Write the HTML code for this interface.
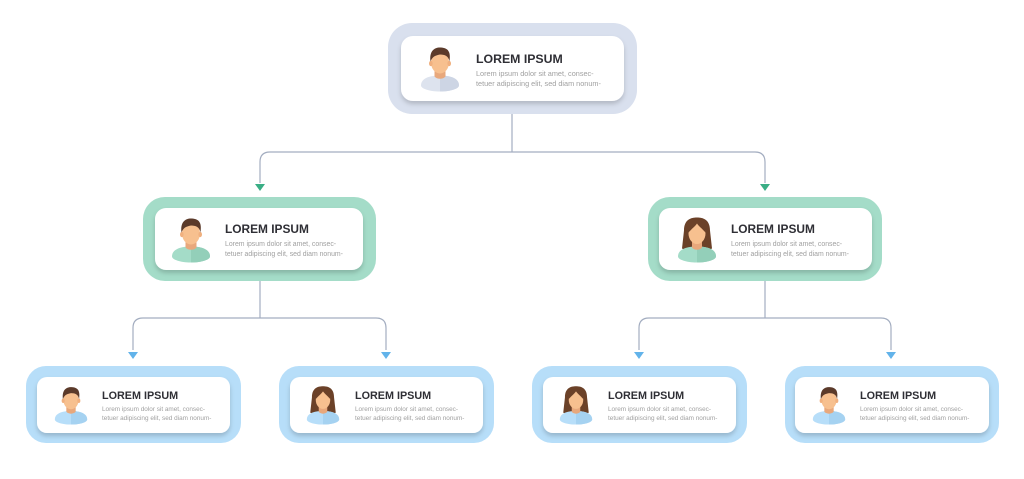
<!DOCTYPE html>
<html><head><meta charset="utf-8"><style>
html,body{margin:0;padding:0;background:#fff;width:1024px;height:479px;overflow:hidden}
svg{display:block}
text{font-family:"Liberation Sans",sans-serif}
.t{font-weight:bold;fill:#2f2f35}
.d{fill:#a0a0a0}
</style></head><body>
<svg width="1024" height="479" viewBox="0 0 1024 479" xmlns="http://www.w3.org/2000/svg">
<defs>
<filter id="sh" x="-10%" y="-20%" width="120%" height="150%"><feDropShadow dx="0" dy="3" stdDeviation="2.5" flood-color="#000" flood-opacity="0.18"/></filter>
<symbol id="m" viewBox="0 0 40 46">
<path d="M1 40 C1 33 9 30 20 30 C31 30 39 33 39 40 C39 43 31 46 20 46 C9 46 1 43 1 40Z" fill="var(--sh)"/>
<path d="M20 30 C31 30 39 33 39 40 C39 43 31 46 20 46Z" fill="var(--sh2)"/>
<path d="M14.5 24 L25.5 24 L25.5 31 C23 34 17 34 14.5 31Z" fill="#e8a87c"/>
<ellipse cx="20" cy="17" rx="9" ry="11" fill="#f7c08f"/>
<ellipse cx="10.8" cy="18" rx="1.8" ry="2.6" fill="#f0b07f"/>
<ellipse cx="29.2" cy="18" rx="1.8" ry="2.6" fill="#f0b07f"/>
<path d="M10.5 16 C9 5 15 1.5 21 2 C28 2.5 31 6 29.5 16 C28.5 10.5 25 9 20 9 C15 10 12.5 11 10.5 16Z" fill="#5b3a2a"/>
</symbol>
<symbol id="f" viewBox="0 0 40 46">
<path d="M7 14 C7 3 14 1 20 1 C26 1 33 3 33 14 L35 32 C30 35 10 35 5 32Z" fill="#6b4128"/>
<path d="M1 40 C1 33 9 30 20 30 C31 30 39 33 39 40 C39 43 31 46 20 46 C9 46 1 43 1 40Z" fill="var(--sh)"/>
<path d="M20 30 C31 30 39 33 39 40 C39 43 31 46 20 46Z" fill="var(--sh2)"/>
<path d="M15 24 L25 24 L25 31 C23 34 17 34 15 31Z" fill="#e8a87c"/>
<ellipse cx="20" cy="17" rx="8.5" ry="10.5" fill="#f7c08f"/>
<path d="M11.5 16 C11.5 6 16 4 20 4 C24 4 28.5 6 28.5 16 C25 12 22 10 20 7 C18 10 15 12 11.5 16Z" fill="#6b4128"/>
</symbol>
</defs>

<g fill="none" stroke="#a3adc0" stroke-width="1.2">
<path d="M512 114 V152"/>
<path d="M260 183 V162 Q260 152 270 152 H755 Q765 152 765 162 V183"/>
<path d="M260 281 V318"/>
<path d="M133 350 V328 Q133 318 143 318 H376 Q386 318 386 328 V350"/>
<path d="M765 281 V318"/>
<path d="M639 350 V328 Q639 318 649 318 H881 Q891 318 891 328 V350"/>
</g>
<g fill="#3aae85"><path d="M255 184 H265 L260 191Z"/><path d="M760 184 H770 L765 191Z"/></g>
<g fill="#62b3ea">
<path d="M128 352 H138 L133 359Z"/><path d="M381 352 H391 L386 359Z"/>
<path d="M634 352 H644 L639 359Z"/><path d="M886 352 H896 L891 359Z"/>
</g>

<rect x="388" y="23" width="249" height="91" rx="24" fill="#d9e0ee"/>
<rect x="401" y="36" width="223" height="65" rx="12" fill="#fff" filter="url(#sh)"/>
<use href="#m" x="420" y="45" width="40" height="47" style="--sh:#dde3ee;--sh2:#cdd5e4"/>
<text class="t" x="476" y="63" font-size="12.3">LOREM IPSUM</text>
<text class="d" x="476" y="76" font-size="7.3">Lorem ipsum dolor sit amet, consec-</text>
<text class="d" x="476" y="86" font-size="7.3">tetuer adipiscing elit, sed diam nonum-</text>

<rect x="143" y="197" width="233" height="84" rx="22" fill="#a4dcc8"/>
<rect x="155" y="208" width="208" height="62" rx="11" fill="#fff" filter="url(#sh)"/>
<use href="#m" x="171" y="216" width="40" height="47" style="--sh:#a4dcc8;--sh2:#93cfb9"/>
<text class="t" x="225" y="233" font-size="11.9">LOREM IPSUM</text>
<text class="d" x="225" y="246" font-size="6.9">Lorem ipsum dolor sit amet, consec-</text>
<text class="d" x="225" y="256" font-size="6.9">tetuer adipiscing elit, sed diam nonum-</text>

<rect x="648" y="197" width="234" height="84" rx="22" fill="#a4dcc8"/>
<rect x="659" y="208" width="213" height="62" rx="11" fill="#fff" filter="url(#sh)"/>
<use href="#f" x="677" y="216" width="40" height="47" style="--sh:#a4dcc8;--sh2:#93cfb9"/>
<text class="t" x="731" y="233" font-size="11.9">LOREM IPSUM</text>
<text class="d" x="731" y="246" font-size="6.9">Lorem ipsum dolor sit amet, consec-</text>
<text class="d" x="731" y="256" font-size="6.9">tetuer adipiscing elit, sed diam nonum-</text>

<g>
<rect x="26" y="366" width="215" height="77" rx="20" fill="#b7def9"/>
<rect x="37" y="377" width="193" height="56" rx="10" fill="#fff" filter="url(#sh)"/>
<use href="#m" x="54" y="385" width="34" height="40" style="--sh:#b7def9;--sh2:#a5d2f1"/>
<text class="t" x="102" y="399" font-size="10.8">LOREM IPSUM</text>
<text class="d" x="102" y="411" font-size="6.4">Lorem ipsum dolor sit amet, consec-</text>
<text class="d" x="102" y="420" font-size="6.4">tetuer adipiscing elit, sed diam nonum-</text>
</g>
<g>
<rect x="279" y="366" width="215" height="77" rx="20" fill="#b7def9"/>
<rect x="290" y="377" width="193" height="56" rx="10" fill="#fff" filter="url(#sh)"/>
<use href="#f" x="306" y="385" width="34" height="40" style="--sh:#b7def9;--sh2:#a5d2f1"/>
<text class="t" x="355" y="399" font-size="10.8">LOREM IPSUM</text>
<text class="d" x="355" y="411" font-size="6.4">Lorem ipsum dolor sit amet, consec-</text>
<text class="d" x="355" y="420" font-size="6.4">tetuer adipiscing elit, sed diam nonum-</text>
</g>
<g>
<rect x="532" y="366" width="215" height="77" rx="20" fill="#b7def9"/>
<rect x="543" y="377" width="193" height="56" rx="10" fill="#fff" filter="url(#sh)"/>
<use href="#f" x="559" y="385" width="34" height="40" style="--sh:#b7def9;--sh2:#a5d2f1"/>
<text class="t" x="608" y="399" font-size="10.8">LOREM IPSUM</text>
<text class="d" x="608" y="411" font-size="6.4">Lorem ipsum dolor sit amet, consec-</text>
<text class="d" x="608" y="420" font-size="6.4">tetuer adipiscing elit, sed diam nonum-</text>
</g>
<g>
<rect x="785" y="366" width="214" height="77" rx="20" fill="#b7def9"/>
<rect x="795" y="377" width="194" height="56" rx="10" fill="#fff" filter="url(#sh)"/>
<use href="#m" x="812" y="385" width="34" height="40" style="--sh:#b7def9;--sh2:#a5d2f1"/>
<text class="t" x="860" y="399" font-size="10.8">LOREM IPSUM</text>
<text class="d" x="860" y="411" font-size="6.4">Lorem ipsum dolor sit amet, consec-</text>
<text class="d" x="860" y="420" font-size="6.4">tetuer adipiscing elit, sed diam nonum-</text>
</g>
</svg>
</body></html>
